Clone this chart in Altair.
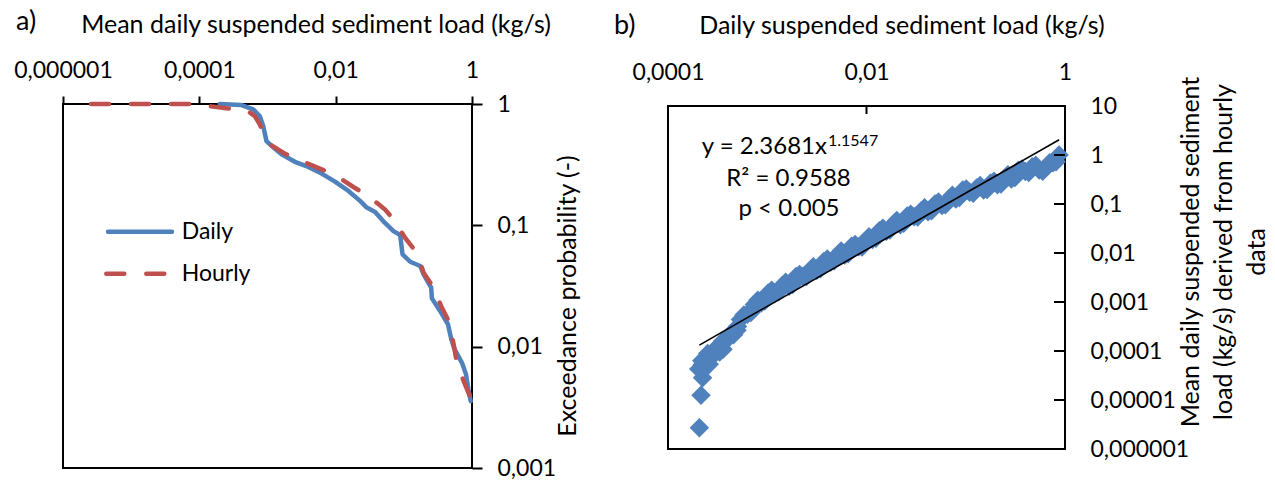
import math
import altair as alt
import pandas as pd

# ---------------- data : panel a (exceedance curves) ----------------
DAILY_X = [1.99e-4, 4.15e-4, 6.17e-4, 7.7e-4, 8.65e-4, 9.66e-4, 1.15e-3, 1.61e-3, 2.52e-3, 3.97e-3,
           6.22e-3, 9.77e-3, 0.0154, 0.0228, 0.0286, 0.0379, 0.0502, 0.0705, 0.0883, 0.0957,
           0.124, 0.174, 0.195, 0.252, 0.258, 0.342, 0.444, 0.497, 0.556, 0.713,
           0.817, 0.894, 0.957]
DAILY_P = [1.0, 0.98, 0.904, 0.796, 0.659, 0.495, 0.451, 0.385, 0.334, 0.303,
           0.267, 0.229, 0.192, 0.159, 0.140, 0.129, 0.108, 0.0897, 0.0832, 0.0577,
           0.0501, 0.0462, 0.0394, 0.0306, 0.025, 0.0196, 0.0153, 0.0115, 0.00949, 0.00736,
           0.00591, 0.00431, 0.00356]
HOURLY_X = [2.58e-6, 6.82e-5, 1.34e-4, 2.49e-4, 4.91e-4, 6.51e-4, 7.7e-4, 9.12e-4, 1.08e-3, 1.8e-3,
            3.16e-3, 6.22e-3, 9.77e-3, 0.0182, 0.0303, 0.0531, 0.0745, 0.104, 0.155, 0.195,
            0.264, 0.362, 0.454, 0.537, 0.601, 0.755, 1.0]
HOURLY_P = [1.0, 1.0, 0.963, 0.921, 0.887, 0.796, 0.680, 0.545, 0.465, 0.389,
            0.339, 0.289, 0.260, 0.207, 0.174, 0.135, 0.108, 0.079, 0.0594, 0.0407,
            0.0316, 0.0209, 0.0163, 0.0105, 0.00736, 0.0052, 0.00356]

# ---------------- data : panel b (scatter + power trend) ----------------
SB_X = [2.07e-4, 2.15e-4, 2.23e-4, 2.20e-4,
        2.042e-4, 2.399e-4, 2.818e-4, 3.311e-4, 3.890e-4, 4.571e-4, 5.370e-4, 6.310e-4, 7.413e-4, 8.710e-4,
        1.023e-3, 1.202e-3, 1.413e-3, 1.660e-3, 1.950e-3, 2.291e-3, 2.692e-3, 3.162e-3, 3.715e-3, 4.365e-3,
        5.129e-3, 6.026e-3, 7.079e-3, 8.318e-3, 9.772e-3, 1.148e-2, 1.349e-2, 1.585e-2, 1.862e-2, 2.188e-2,
        2.570e-2, 3.020e-2, 3.548e-2, 4.169e-2, 4.898e-2, 5.754e-2, 6.761e-2, 7.943e-2, 9.333e-2, 0.1096,
        0.1288, 0.1514, 0.1778, 0.2089, 0.2455, 0.2884, 0.3388, 0.3981, 0.4677, 0.5495,
        0.6457, 0.7586, 0.8710,
        2.213e-4, 2.600e-4, 3.055e-4, 3.589e-4, 4.217e-4, 4.955e-4, 5.821e-4, 6.839e-4, 8.035e-4, 9.441e-4,
        1.109e-3, 1.303e-3, 1.531e-3, 1.799e-3, 2.113e-3, 2.483e-3, 2.917e-3, 3.428e-3, 4.027e-3, 4.732e-3,
        5.559e-3, 6.531e-3, 7.674e-3, 9.016e-3, 1.059e-2, 1.245e-2, 1.462e-2, 1.718e-2, 2.018e-2, 2.371e-2,
        2.786e-2, 3.273e-2, 3.846e-2, 4.519e-2, 5.309e-2, 6.237e-2, 7.328e-2, 8.610e-2, 0.1012, 0.1189,
        0.1396, 0.1641, 0.1928, 0.2265, 0.2661, 0.3126, 0.3673, 0.4315, 0.5070, 0.5957,
        0.6998, 0.8128,
        2.188e-4, 2.512e-4, 3.020e-4, 3.548e-4, 4.169e-4, 5.012e-4]
SB_Y = [2.72e-6, 1.25e-5, 2.85e-5, 3.9e-5,
        4.27e-5, 4.84e-5, 7.94e-5, 9.51e-5, 1.675e-4, 2.138e-4, 4.416e-4, 5.61e-4, 8.91e-4, 9.59e-4,
        1.52e-3, 1.528e-3, 2.148e-3, 2.084e-3, 3.311e-3, 3.319e-3, 4.467e-3, 4.457e-3, 6.71e-3, 6.55e-3,
        9.23e-3, 9.06e-3, 1.374e-2, 1.334e-2, 1.774e-2, 1.875e-2, 2.831e-2, 2.786e-2, 3.882e-2, 3.750e-2,
        5.715e-2, 5.508e-2, 7.21e-2, 6.98e-2, 0.1005, 9.35e-2, 0.1265, 0.1259, 0.1941, 0.1746,
        0.2118, 0.1932, 0.2679, 0.2472, 0.3334, 0.3251, 0.4875, 0.4603, 0.5728, 0.4955,
        0.5546, 0.6918, 1.0,
        5.27e-5, 5.35e-5, 9.75e-5, 1.086e-4, 2.198e-4, 2.642e-4, 5.458e-4, 6.081e-4, 1.086e-3, 1.052e-3,
        1.73e-3, 1.614e-3, 2.541e-3, 2.286e-3, 3.631e-3, 3.311e-3, 5.236e-3, 4.764e-3, 7.516e-3, 6.918e-3,
        1.099e-2, 9.705e-3, 1.483e-2, 1.324e-2, 2.143e-2, 2.004e-2, 3.184e-2, 2.931e-2, 4.581e-2, 4.027e-2,
        6.152e-2, 5.420e-2, 8.337e-2, 7.295e-2, 0.1099, 9.683e-2, 0.1517, 0.1361, 0.2018, 0.1656,
        0.2377, 0.1982, 0.2917, 0.2559, 0.3954, 0.3467, 0.5188, 0.4416, 0.6180, 0.4667,
        0.6950, 0.7244,
        6.31e-5, 8.91e-5, 1.122e-4, 1.585e-4, 1.995e-4, 3.162e-4]
TREND_X = [2.07e-4, 0.873]
TREND_Y = [1.32e-4, 2.05]

# ---------------- ticks / labels ----------------
A_X_TICKS = [1e-6, 1e-4, 1e-2, 1]
A_X_LABELS = ["0,000001", "0,0001", "0,01", "1"]
A_Y_TICKS = [1, 0.1, 0.01, 0.001]
A_Y_LABELS = ["1", "0,1", "0,01", "0,001"]
B_X_TICKS = [1e-4, 1e-2, 1]
B_X_LABELS = ["0,0001", "0,01", "1"]
B_Y_TICKS = [10, 1, 0.1, 0.01, 0.001, 1e-4, 1e-5, 1e-6]
B_Y_LABELS = ["10", "1", "0,1", "0,01", "0,001", "0,0001", "0,00001", "0,000001"]
B_X_INNER = [1e-2]
B_Y_INNER = [1, 0.1, 0.01, 0.001, 1e-4, 1e-5]

FONT = "Lato"
FS = 23      # tick labels, legend
FT = 25      # titles
FE = 24      # equation text
FP = 27      # panel letters
BLUE = "#4F81BD"
RED = "#C0504D"
W_A, H_A = 409, 364
W_B, H_B = 397, 343


def label_expr(vals, labels):
    exps = [str(round(math.log10(v))) for v in vals]
    labs = ",".join("'" + s + "'" for s in labels)
    return "[" + labs + "][indexof([" + ",".join(exps) + "], round(log(datum.value)/LN10))]"


def axis(orient, vals, labels, tick_size, pad, tick_color, align=None, baseline=None):
    kw = dict(orient=orient, values=vals, labelExpr=label_expr(vals, labels), tickSize=tick_size,
              tickWidth=2, tickColor=tick_color, labelPadding=pad, labelFlush=False, labelOverlap=False,
              domain=False, grid=False, labelFont=FONT, labelFontSize=FS, labelColor="black", title="")
    if align:
        kw["labelAlign"] = align
    if baseline:
        kw["labelBaseline"] = baseline
    return alt.Axis(**kw)


def txt(s, x, y, size=FS, align="center", baseline="alphabetic", angle=0):
    return alt.Chart(pd.DataFrame({"t": [s]})).mark_text(
        font=FONT, fontSize=size, align=align, baseline=baseline, angle=angle, color="black"
    ).encode(x=alt.value(x), y=alt.value(y), text="t:N")


one = pd.DataFrame({"k": [0]})

# ---------------- panel a ----------------
xa_scale = alt.Scale(type="log", domain=[1e-6, 1], nice=False)
ya_scale = alt.Scale(type="log", domain=[1e-3, 1], nice=False)
xa = alt.X("x:Q", scale=xa_scale, axis=axis("top", A_X_TICKS, A_X_LABELS, 8, 19, "black", baseline="alphabetic"))
ya = alt.Y("p:Q", scale=ya_scale, axis=axis("right", A_Y_TICKS, A_Y_LABELS, 10, 15, "black", align="left", baseline="middle"))

daily_df = pd.DataFrame({"x": DAILY_X, "p": DAILY_P})
hourly_df = pd.DataFrame({"x": HOURLY_X, "p": HOURLY_P})

daily = alt.Chart(daily_df).mark_line(color=BLUE, strokeWidth=4.5, strokeCap="round", strokeJoin="round").encode(x=xa, y=ya)
hourly = alt.Chart(hourly_df).mark_line(color=RED, strokeWidth=4.5, strokeCap="round", strokeDash=[18, 22]).encode(
    x=alt.X("x:Q", scale=xa_scale), y=alt.Y("p:Q", scale=ya_scale))

leg_daily = alt.Chart(one).mark_rule(color=BLUE, strokeWidth=4.5, strokeCap="round").encode(
    x=alt.value(45), x2=alt.value(109), y=alt.value(127.7))
leg_hourly = alt.Chart(one).mark_rule(color=RED, strokeWidth=4.5, strokeCap="round", strokeDash=[18, 22]).encode(
    x=alt.value(43.3), x2=alt.value(111), y=alt.value(169.7))
anchor = alt.Chart(one).mark_rule(opacity=0, strokeWidth=0.01).encode(
    x=alt.value(-62), x2=alt.value(-61), y=alt.value(-103), y2=alt.value(-103))

panel_a = alt.layer(
    anchor, daily, hourly, leg_daily, leg_hourly,
    txt("Daily", 118.7, 135.3, align="left"),
    txt("Hourly", 118.7, 177, align="left"),
    txt("a)", -47, -74, size=FP, align="left"),
    txt("Mean daily suspended sediment load (kg/s)", 253, -71, size=FT),
    txt("Exceedance probability (-)", 505, 192, size=FT, baseline="middle", angle=270),
).properties(width=W_A, height=H_A, view=alt.ViewBackground(stroke="black", strokeWidth=2))

# ---------------- panel b ----------------
xb_scale = alt.Scale(type="log", domain=[1e-4, 1], nice=False)
yb_scale = alt.Scale(type="log", domain=[1e-6, 10], nice=False)
xb = alt.X("x:Q", scale=xb_scale, axis=axis("top", B_X_TICKS, B_X_LABELS, 8, 19, "transparent", baseline="alphabetic"))
yb = alt.Y("y:Q", scale=yb_scale, axis=axis("right", B_Y_TICKS, B_Y_LABELS, 10, 15, "transparent", align="left", baseline="middle"))

sc_df = pd.DataFrame({"x": SB_X, "y": SB_Y})
tr_df = pd.DataFrame({"x": TREND_X, "y": TREND_Y})

scatter = alt.Chart(sc_df).mark_point(shape="diamond", filled=True, size=380, color=BLUE, opacity=1).encode(x=xb, y=yb)
trend = alt.Chart(tr_df).mark_line(color="black", strokeWidth=1.6).encode(
    x=alt.X("x:Q", scale=xb_scale), y=alt.Y("y:Q", scale=yb_scale))
xt = alt.Chart(pd.DataFrame({"x": B_X_INNER})).mark_rule(color="black", strokeWidth=2).encode(
    x=alt.X("x:Q", scale=xb_scale), y=alt.value(0), y2=alt.value(8))
yt = alt.Chart(pd.DataFrame({"y": B_Y_INNER})).mark_rule(color="black", strokeWidth=2).encode(
    y=alt.Y("y:Q", scale=yb_scale), x=alt.value(W_B - 11), x2=alt.value(W_B))

panel_b = alt.layer(
    scatter, trend, xt, yt,
    txt("y = 2.3681x", 159, 48, size=FE, align="right"),
    txt("1.1547", 160, 40, size=16, align="left"),
    txt("R² = 0.9588", 120.5, 80, size=FE),
    txt("p < 0.005", 121, 110, size=FE),
    txt("b)", -54, -72, size=FP, align="left"),
    txt("Daily suspended sediment load (kg/s)", 234, -72, size=FT),
    txt("Mean daily suspended sediment", 523, 146, size=FT, baseline="middle", angle=270),
    txt("load (kg/s) derived from hourly", 556, 146, size=FT, baseline="middle", angle=270),
    txt("data", 589, 146, size=FT, baseline="middle", angle=270),
).properties(width=W_B, height=H_B, view=alt.ViewBackground(stroke="black", strokeWidth=2))

spacer = alt.Chart(one).mark_point(opacity=0).encode(x=alt.value(0), y=alt.value(0)).properties(
    width=W_B, height=2, view=alt.ViewBackground(stroke="transparent"))

right_col = alt.vconcat(spacer, panel_b, spacing=0, bounds="flush")

chart = alt.hconcat(panel_a, right_col, spacing=196, bounds="flush").properties(
    padding=0, background="white"
).configure(font=FONT)

chart.save("out.html", embed_options={"renderer": "svg", "actions": False})
